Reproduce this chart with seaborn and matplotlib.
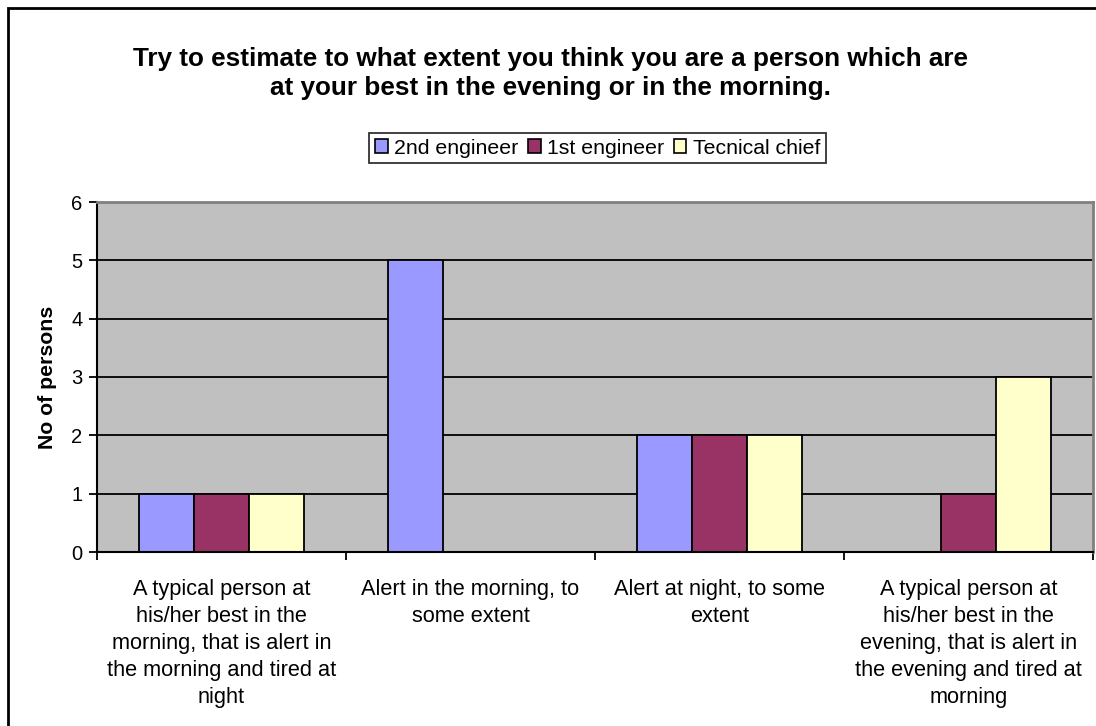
import matplotlib
matplotlib.use("Agg")
import matplotlib.pyplot as plt
from matplotlib.patches import Rectangle, Patch
import pandas as pd
import seaborn as sns

# Survey answers per category and crew role
categories = [
    "A typical person at\nhis/her best in the\nmorning, that is alert in\nthe morning and tired at\nnight",
    "Alert in the morning, to\nsome extent",
    "Alert at night, to some\nextent",
    "A typical person at\nhis/her best in the\nevening, that is alert in\nthe evening and tired at\nmorning",
]
series_names = ["2nd engineer", "1st engineer", "Tecnical chief"]
second_engineer = [1, 5, 2, 0]
first_engineer = [1, 0, 2, 1]
technical_chief = [1, 0, 2, 3]
colors = ["#9999FF", "#993366", "#FFFFCC"]
y_ticks = [0, 1, 2, 3, 4, 5, 6]

title = ("Try to estimate to what extent you think you are a person which are\n"
         "at your best in the evening or in the morning.")
y_label = "No of persons"

rows = []
for name, vals in zip(series_names, [second_engineer, first_engineer, technical_chief]):
    for i, v in enumerate(vals):
        rows.append({"category": i, "series": name, "count": v})
df = pd.DataFrame(rows)

sns.set_style("white")
plt.rcParams["font.family"] = ["Liberation Sans", "DejaVu Sans"]
plt.rcParams["text.color"] = "black"
plt.rcParams["axes.labelcolor"] = "black"
plt.rcParams["xtick.color"] = "black"
plt.rcParams["ytick.color"] = "black"

W, H = 1096, 726
fig = plt.figure(figsize=(W / 100, H / 100), dpi=100)
ax = fig.add_axes([97 / W, 1 - 552 / H, (1093 - 97) / W, (552 - 202) / H])
ax.set_facecolor("#C0C0C0")

sns.barplot(data=df, x="category", y="count", hue="series", hue_order=series_names,
            palette=colors, width=0.66, edgecolor="black", linewidth=1.3,
            saturation=1, legend=False, ax=ax)

ax.set_xlim(-0.5, 3.5)
ax.set_ylim(0, 6)
ax.set_yticks(y_ticks)
ax.set_yticklabels([str(t) for t in y_ticks])
ax.set_axisbelow(True)
ax.yaxis.grid(True, color="black", linewidth=1.3)
ax.xaxis.grid(False)

# category boundaries get the ticks, labels sit at category centres
ax.set_xticks([-0.5, 0.5, 1.5, 2.5, 3.5])
ax.set_xticklabels([])
ax.set_xticks(range(len(categories)), minor=True)
ax.set_xticklabels(categories, minor=True, fontsize=15.7, linespacing=1.38,
                   ha="center", va="top")
ax.tick_params(axis="x", which="major", direction="out", length=5.5, width=1.3,
               color="black", bottom=True)
ax.tick_params(axis="x", which="minor", length=0, pad=19.5)
ax.tick_params(axis="y", direction="out", length=5.5, width=1.3, color="black",
               left=True, labelsize=14.5, pad=5)
ax.set_xlabel("")
ax.set_ylabel(y_label, fontsize=15.3, fontweight="bold", labelpad=10.5)

for side in ["left", "bottom"]:
    ax.spines[side].set_color("black")
    ax.spines[side].set_linewidth(1.5)
for side in ["top", "right"]:
    ax.spines[side].set_visible(True)
    ax.spines[side].set_color("#808080")
    ax.spines[side].set_linewidth(2)

fig.text(0.502, 1 - 73.5 / H, title, ha="center", va="center", fontsize=18.8,
         fontweight="bold", linespacing=1.24)

handles = [Patch(facecolor=c, edgecolor="black", linewidth=1.2) for c in colors]
fig.legend(handles, series_names, loc="center",
           bbox_to_anchor=(597.5 / W, 1 - 148 / H), ncol=3, fontsize=15.3,
           frameon=True, fancybox=False, shadow=False, edgecolor="black",
           handlelength=0.6, handleheight=0.6, handletextpad=0.3,
           columnspacing=0.45, borderpad=0.27, borderaxespad=0)
leg = fig.legends[0]
leg.get_frame().set_linewidth(1.3)

# chart-area frame
fig.add_artist(Rectangle((8 / W, -0.05), 1.2, 1 - 7.5 / H + 0.05,
                         transform=fig.transFigure, fill=False,
                         edgecolor="black", linewidth=2))

fig.savefig("out.png", dpi=100)
